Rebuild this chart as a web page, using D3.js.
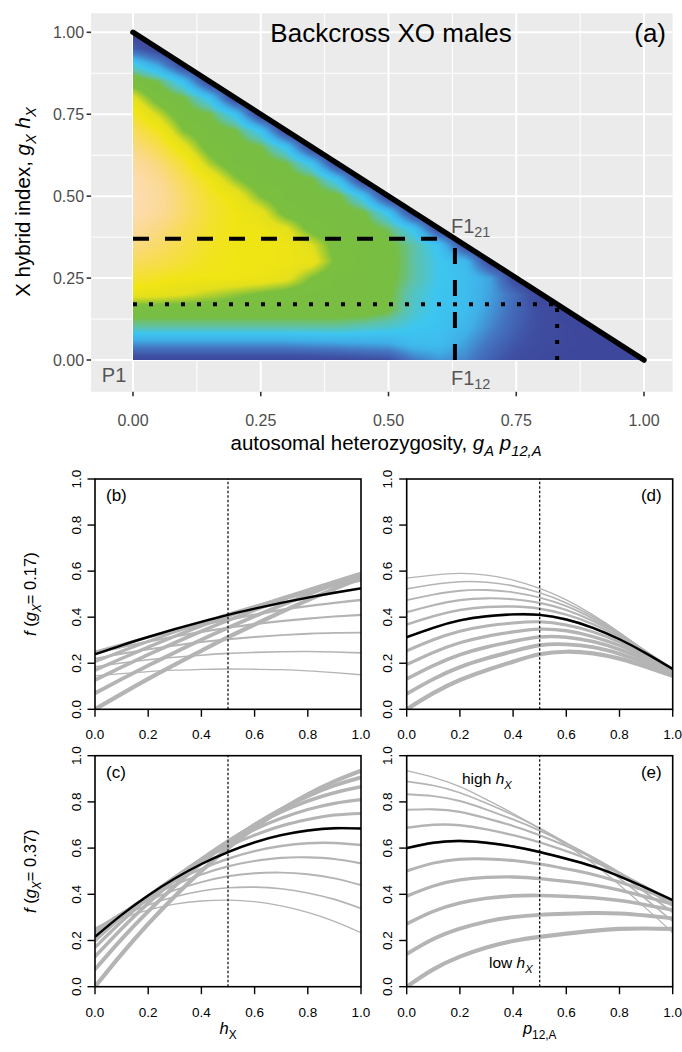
<!DOCTYPE html>
<html><head><meta charset="utf-8">
<script src="https://cdn.jsdelivr.net/npm/d3@7"></script>
<style>
body{margin:0;background:#fff}
svg{display:block}
text{font-family:"Liberation Sans",Arial,Helvetica,sans-serif}
</style>
</head><body>
<svg id="chart" width="682" height="1052"></svg>
<script>
// ---------------- DATA ----------------
// Panel (a): heat-map grid, rows at heatY, columns at heatX (only x + y <= 1)
const heatX = [0,0.05,0.1,0.15,0.2,0.25,0.3,0.35,0.4,0.45,0.5,0.55,0.6,0.65,0.7,0.75,0.8,0.85,0.9,0.95,1];
const heatY = [0,0.05,0.1,0.15,0.2,0.25,0.3,0.35,0.4,0.45,0.5,0.55,0.6,0.65,0.7,0.75,0.8,0.85,0.9,0.95,1];
const heatRows = [
  [0.04,0.04,0.04,0.04,0.04,0.04,0.04,0.05,0.06,0.08,0.10,0.22,0.28,0.25,0.15,0.08,0.05,0.04,0.04,0.04,0.03],
  [0.28,0.28,0.28,0.28,0.28,0.28,0.28,0.29,0.30,0.31,0.32,0.38,0.38,0.30,0.20,0.12,0.07,0.05,0.04,0.03],
  [0.50,0.50,0.50,0.50,0.50,0.50,0.50,0.50,0.50,0.48,0.46,0.42,0.40,0.35,0.25,0.15,0.08,0.05,0.03],
  [0.60,0.60,0.60,0.60,0.60,0.60,0.60,0.60,0.60,0.60,0.56,0.46,0.41,0.38,0.28,0.17,0.08,0.03],
  [0.77,0.76,0.74,0.71,0.68,0.65,0.62,0.60,0.60,0.60,0.57,0.47,0.41,0.38,0.30,0.18,0.04],
  [0.84,0.82,0.80,0.80,0.80,0.79,0.76,0.66,0.60,0.60,0.58,0.50,0.42,0.39,0.30,0.05],
  [0.89,0.87,0.84,0.81,0.80,0.80,0.79,0.77,0.64,0.60,0.59,0.50,0.42,0.37,0.06],
  [0.93,0.90,0.86,0.82,0.80,0.80,0.79,0.74,0.62,0.60,0.58,0.50,0.40,0.08],
  [0.97,0.93,0.88,0.83,0.80,0.79,0.75,0.63,0.60,0.60,0.54,0.40,0.07],
  [1.00,0.96,0.90,0.84,0.80,0.76,0.63,0.60,0.60,0.57,0.40,0.06],
  [1.00,0.97,0.90,0.83,0.78,0.66,0.60,0.60,0.58,0.40,0.05],
  [1.00,0.95,0.88,0.80,0.68,0.60,0.60,0.57,0.40,0.05],
  [0.97,0.92,0.84,0.70,0.60,0.60,0.56,0.40,0.05],
  [0.93,0.87,0.76,0.62,0.60,0.56,0.40,0.05],
  [0.89,0.81,0.66,0.60,0.56,0.40,0.05],
  [0.83,0.72,0.60,0.56,0.40,0.05],
  [0.75,0.62,0.56,0.40,0.05],
  [0.62,0.55,0.38,0.05],
  [0.45,0.30,0.05],
  [0.15,0.04],
  [0.03]
];
const colourStops  = [0, 0.1, 0.22, 0.33, 0.42, 0.5, 0.56, 0.66, 0.74, 0.8, 0.88, 0.94, 1.0];
const colourValues = ["#3c4399","#3f4fa2","#4477c2","#3fb0e8","#3dc6f0","#5fc2a8","#77be44","#7bbf3e","#e2df1c","#f0e514","#f7dc55","#fad98c","#fddcb0"];
const ticksA = [0,0.25,0.5,0.75,1];
const tickLabelsA = ["0.00","0.25","0.50","0.75","1.00"];
const minorA = [0.125,0.375,0.625,0.875];
const dashedPoint = [0.63,0.37];   // F1_21
const dottedPoint = [0.83,0.17];

// Panels (b)-(e): f on an 11 x 11 grid; rows = p12,A, columns = hX
const hX  = [0,0.1,0.2,0.3,0.4,0.5,0.6,0.7,0.8,0.9,1];
const p12 = [0,0.1,0.2,0.3,0.4,0.5,0.6,0.7,0.8,0.9,1];
const f017 = [
  [0.000,0.067,0.132,0.194,0.254,0.313,0.368,0.422,0.474,0.523,0.570],
  [0.070,0.131,0.190,0.247,0.302,0.354,0.404,0.452,0.498,0.542,0.583],
  [0.127,0.183,0.237,0.289,0.339,0.386,0.431,0.474,0.515,0.554,0.590],
  [0.170,0.221,0.270,0.317,0.362,0.404,0.444,0.482,0.518,0.552,0.583],
  [0.207,0.252,0.295,0.336,0.375,0.412,0.446,0.478,0.508,0.536,0.561],
  [0.239,0.278,0.314,0.348,0.380,0.410,0.437,0.462,0.485,0.506,0.525],
  [0.250,0.282,0.313,0.341,0.366,0.390,0.411,0.431,0.448,0.462,0.475],
  [0.243,0.270,0.294,0.316,0.336,0.354,0.370,0.383,0.394,0.403,0.410],
  [0.220,0.241,0.260,0.277,0.292,0.304,0.314,0.322,0.328,0.332,0.333],
  [0.185,0.201,0.215,0.226,0.235,0.243,0.247,0.250,0.251,0.249,0.245],
  [0.145,0.155,0.164,0.170,0.173,0.175,0.174,0.172,0.167,0.159,0.150]
];
const f037 = [
  [0.000,0.141,0.272,0.392,0.501,0.600,0.688,0.766,0.833,0.889,0.935],
  [0.075,0.206,0.326,0.436,0.535,0.623,0.701,0.768,0.825,0.871,0.906],
  [0.130,0.251,0.362,0.462,0.552,0.631,0.699,0.757,0.804,0.840,0.866],
  [0.170,0.282,0.383,0.473,0.553,0.623,0.681,0.729,0.767,0.794,0.810],
  [0.198,0.301,0.393,0.475,0.546,0.607,0.656,0.696,0.724,0.743,0.750],
  [0.216,0.311,0.395,0.468,0.531,0.583,0.625,0.656,0.676,0.686,0.685],
  [0.230,0.316,0.391,0.456,0.510,0.554,0.587,0.609,0.621,0.622,0.613],
  [0.242,0.319,0.385,0.441,0.486,0.521,0.544,0.558,0.560,0.553,0.534],
  [0.250,0.317,0.373,0.418,0.453,0.478,0.491,0.494,0.487,0.469,0.440],
  [0.252,0.308,0.354,0.389,0.414,0.428,0.431,0.424,0.406,0.378,0.339],
  [0.250,0.296,0.332,0.357,0.371,0.375,0.368,0.350,0.322,0.283,0.234]
];
const highlightIndex = 5;  // p12,A = 0.5 / hX = 0.5 (black curve)
const ticksB = [0,0.2,0.4,0.6,0.8,1];
const tickLabelsB = ["0.0","0.2","0.4","0.6","0.8","1.0"];

// ---------------- DRAW ----------------
const svg = d3.select("#chart");
const defs = svg.append("defs");

// ===== Panel (a) =====
const xA = d3.scaleLinear().domain([0,1]).range([133,644]);
const yA = d3.scaleLinear().domain([0,1]).range([360,32.3]);
const limX = [-0.082,1.056], limY = [-0.097,1.058];
const gA = svg.append("g");
gA.append("rect").attr("x",xA(limX[0])).attr("y",yA(limY[1]))
  .attr("width",xA(limX[1])-xA(limX[0])).attr("height",yA(limY[0])-yA(limY[1]))
  .attr("fill","#ebebeb");
minorA.forEach(v=>{
  gA.append("line").attr("x1",xA(v)).attr("x2",xA(v)).attr("y1",yA(limY[0])).attr("y2",yA(limY[1]))
    .attr("stroke","#fff").attr("stroke-width",1);
  gA.append("line").attr("y1",yA(v)).attr("y2",yA(v)).attr("x1",xA(limX[0])).attr("x2",xA(limX[1]))
    .attr("stroke","#fff").attr("stroke-width",1);
});
ticksA.forEach(v=>{
  gA.append("line").attr("x1",xA(v)).attr("x2",xA(v)).attr("y1",yA(limY[0])).attr("y2",yA(limY[1]))
    .attr("stroke","#fff").attr("stroke-width",2);
  gA.append("line").attr("y1",yA(v)).attr("y2",yA(v)).attr("x1",xA(limX[0])).attr("x2",xA(limX[1]))
    .attr("stroke","#fff").attr("stroke-width",2);
});

// heat map: raster rendered from the grid (bilinear shading between grid values)
const colour = d3.scaleLinear().domain(colourStops).range(colourValues).interpolate(d3.interpolateRgb);
defs.append("clipPath").attr("id","tri").append("polygon")
  .attr("points",[[xA(0),yA(0)],[xA(0),yA(1)],[xA(1),yA(0)]].map(p=>p.join(",")).join(" "));
(function(){
  const px0 = Math.floor(xA(0))-1, px1 = Math.ceil(xA(1))+1;
  const py0 = Math.floor(yA(1))-1, py1 = Math.ceil(yA(0))+1;
  const W = px1-px0, H = py1-py0;
  const cv = document.createElement("canvas"); cv.width=W; cv.height=H;
  const ctx = cv.getContext("2d"); const img = ctx.createImageData(W,H);
  const ix = d3.scaleLinear().domain([heatX[0],heatX[heatX.length-1]]).range([0,heatX.length-1]);
  const iy = d3.scaleLinear().domain([heatY[0],heatY[heatY.length-1]]).range([0,heatY.length-1]);
  const val = (i,j)=>{ const r = heatRows[Math.max(0,Math.min(heatRows.length-1,i))]; return r[Math.max(0,Math.min(r.length-1,j))]; };
  for(let py=0; py<H; py++){
    const yv = yA.invert(py0+py+0.5);
    const fy = Math.max(0,Math.min(heatY.length-1, iy(yv)));
    const i0 = Math.min(heatY.length-2, Math.floor(fy)), ty = fy-i0;
    for(let px=0; px<W; px++){
      const xv = xA.invert(px0+px+0.5);
      const fx = Math.max(0,Math.min(heatX.length-1, ix(xv)));
      const j0 = Math.min(heatX.length-2, Math.floor(fx)), tx = fx-j0;
      const v = (val(i0,j0)*(1-tx)+val(i0,j0+1)*tx)*(1-ty) + (val(i0+1,j0)*(1-tx)+val(i0+1,j0+1)*tx)*ty;
      const c = d3.rgb(colour(v));
      const k = (py*W+px)*4;
      img.data[k]=c.r; img.data[k+1]=c.g; img.data[k+2]=c.b; img.data[k+3]=255;
    }
  }
  ctx.putImageData(img,0,0);
  gA.append("image").attr("x",px0).attr("y",py0).attr("width",W).attr("height",H)
    .attr("href",cv.toDataURL()).attr("clip-path","url(#tri)");
})();

// reference lines
gA.append("line").attr("x1",xA(0)).attr("y1",yA(dashedPoint[1])).attr("x2",xA(dashedPoint[0])).attr("y2",yA(dashedPoint[1]))
  .attr("stroke","#000").attr("stroke-width",4).attr("stroke-dasharray","16,16");
gA.append("line").attr("x1",xA(dashedPoint[0])).attr("y1",yA(0)).attr("x2",xA(dashedPoint[0])).attr("y2",yA(dashedPoint[1]))
  .attr("stroke","#000").attr("stroke-width",4).attr("stroke-dasharray","16,16");
gA.append("line").attr("x1",xA(0)).attr("y1",yA(dottedPoint[1])).attr("x2",xA(dottedPoint[0])).attr("y2",yA(dottedPoint[1]))
  .attr("stroke","#000").attr("stroke-width",4).attr("stroke-dasharray","4,12");
gA.append("line").attr("x1",xA(dottedPoint[0])).attr("y1",yA(0)).attr("x2",xA(dottedPoint[0])).attr("y2",yA(dottedPoint[1]))
  .attr("stroke","#000").attr("stroke-width",4).attr("stroke-dasharray","4,12");
gA.append("line").attr("x1",xA(0)).attr("y1",yA(1)).attr("x2",xA(1)).attr("y2",yA(0))
  .attr("stroke","#000").attr("stroke-width",5.5).attr("stroke-linecap","round");

// axes
ticksA.forEach((v,i)=>{
  gA.append("line").attr("x1",xA(v)).attr("x2",xA(v)).attr("y1",yA(limY[0])).attr("y2",yA(limY[0])+4.5)
    .attr("stroke","#333").attr("stroke-width",1.6);
  gA.append("text").attr("x",xA(v)).attr("y",425.5).attr("text-anchor","middle")
    .attr("font-size",16).attr("fill","#4d4d4d").text(tickLabelsA[i]);
  gA.append("line").attr("y1",yA(v)).attr("y2",yA(v)).attr("x1",xA(limX[0])-4.5).attr("x2",xA(limX[0]))
    .attr("stroke","#333").attr("stroke-width",1.6);
  gA.append("text").attr("x",xA(limX[0])-7).attr("y",yA(v)).attr("text-anchor","end")
    .attr("dominant-baseline","central").attr("font-size",16).attr("fill","#4d4d4d").text(tickLabelsA[i]);
});

function rich(g, x, y, parts, size, attrs){
  const t = g.append("text").attr("x",x).attr("y",y).attr("font-size",size);
  Object.entries(attrs||{}).forEach(([k,v])=>t.attr(k,v));
  let shift = 0;
  parts.forEach(p=>{
    const ts = t.append("tspan").text(p.t);
    if(p.it) ts.attr("font-style","italic");
    const target = p.sub ? size*0.3 : 0;
    if(target!==shift){ ts.attr("dy",target-shift); shift=target; }
    if(p.sub) ts.attr("font-size",size*0.72);
  });
  return t;
}

// axis titles (a)
rich(gA, 386, 450, [{t:"autosomal heterozygosity, "},{t:"g",it:1},{t:"A",it:1,sub:1},{t:" "},{t:"p",it:1},{t:"12,A",it:1,sub:1}], 20.5, {"text-anchor":"middle"});
rich(gA, 0, 0, [{t:"X hybrid index, "},{t:"g",it:1},{t:"X",it:1,sub:1},{t:" "},{t:"h",it:1},{t:"X",it:1,sub:1}], 20.5,
  {"text-anchor":"middle","transform":"translate(30,202) rotate(-90)"});
// annotations (a)
gA.append("text").attr("x",391).attr("y",42).attr("text-anchor","middle").attr("font-size",26).attr("fill","#000").text("Backcross XO males");
gA.append("text").attr("x",xA(1.012)).attr("y",42).attr("text-anchor","middle").attr("font-size",26).attr("fill","#000").text("(a)");
gA.append("text").attr("x",xA(-0.037)).attr("y",yA(-0.045)).attr("text-anchor","middle").attr("dominant-baseline","central")
  .attr("font-size",20).attr("fill","#555").text("P1");
rich(gA, xA(dashedPoint[0])-4, yA(-0.055), [{t:"F1"},{t:"12",sub:1}], 20, {"fill":"#555","dominant-baseline":"central"});
rich(gA, xA(dashedPoint[0])-4, yA(dashedPoint[1]+0.04), [{t:"F1"},{t:"21",sub:1}], 20, {"fill":"#555","dominant-baseline":"central"});

// ===== Panels (b)-(e) =====
const lw = d3.scaleLinear().domain([0,10]).range([4.2,1.3]);
function linePanel(box, xs, curves, label, labelRight){
  const g = svg.append("g");
  const x = d3.scaleLinear().domain([0,1]).range([box.x0, box.x1]);
  const y = d3.scaleLinear().domain([0,1]).range([box.y1, box.y0]);
  const id = "clip"+label.replace(/\W/g,"");
  defs.append("clipPath").attr("id",id).append("rect").attr("x",box.x0).attr("y",box.y0)
    .attr("width",box.x1-box.x0).attr("height",box.y1-box.y0);
  const line = d3.line().x((d,i)=>x(xs[i])).y(d=>y(d)).curve(d3.curveNatural);
  const cg = g.append("g").attr("clip-path",`url(#${id})`);
  curves.forEach((c,i)=>{
    cg.append("path").attr("d",line(c)).attr("fill","none").attr("stroke","#b4b4b4").attr("stroke-width",lw(i));
  });
  cg.append("path").attr("d",line(curves[highlightIndex])).attr("fill","none").attr("stroke","#000").attr("stroke-width",2.4);
  g.append("line").attr("x1",x(0.5)).attr("x2",x(0.5)).attr("y1",y(0)).attr("y2",y(1))
    .attr("stroke","#000").attr("stroke-width",1.2).attr("stroke-dasharray","2.5,2");
  g.append("rect").attr("x",box.x0).attr("y",box.y0).attr("width",box.x1-box.x0).attr("height",box.y1-box.y0)
    .attr("fill","none").attr("stroke","#000").attr("stroke-width",1.6);
  ticksB.forEach((v,i)=>{
    g.append("line").attr("x1",x(v)).attr("x2",x(v)).attr("y1",box.y1).attr("y2",box.y1+7.5).attr("stroke","#000").attr("stroke-width",1.4);
    g.append("text").attr("x",x(v)).attr("y",box.y1+25.5).attr("text-anchor","middle").attr("dominant-baseline","central")
      .attr("font-size",13.5).text(tickLabelsB[i]);
    g.append("line").attr("y1",y(v)).attr("y2",y(v)).attr("x1",box.x0-7.5).attr("x2",box.x0).attr("stroke","#000").attr("stroke-width",1.4);
    g.append("text").attr("transform",`translate(${box.x0-19},${y(v)}) rotate(-90)`).attr("text-anchor","middle")
      .attr("dominant-baseline","central").attr("font-size",13.5).text(tickLabelsB[i]);
  });
  if(labelRight) g.append("text").attr("x",box.x1-11).attr("y",box.y0+22).attr("text-anchor","end").attr("font-size",17).text(label);
  else g.append("text").attr("x",box.x0+11).attr("y",box.y0+22).attr("font-size",17).text(label);
  return {g,x,y};
}
const boxB = {x0:95,x1:361,y0:479,y1:709.3};
const boxD = {x0:406.7,x1:672.7,y0:479,y1:709.3};
const boxC = {x0:95,x1:361,y0:755.7,y1:986.7};
const boxE = {x0:406.7,x1:672.7,y0:755.7,y1:986.7};
const cols = (m)=>m[0].map((_,j)=>m.map(r=>r[j]));
linePanel(boxB, hX, f017, "(b)", false);
linePanel(boxD, p12, cols(f017), "(d)", true);
linePanel(boxC, hX, f037, "(c)", false);
const pe = linePanel(boxE, p12, cols(f037), "(e)", true);
rich(pe.g, 462, 784, [{t:"high "},{t:"h",it:1},{t:"X",it:1,sub:1}], 15.5, {});
rich(pe.g, 489, 968, [{t:"low "},{t:"h",it:1},{t:"X",it:1,sub:1}], 15.5, {});

// y labels for (b),(c)
rich(svg, 0, 0, [{t:"f",it:1},{t:"  ("},{t:"g",it:1},{t:"X",it:1,sub:1},{t:"= 0.17)"}], 16.5,
  {"text-anchor":"middle","transform":`translate(36,${(boxB.y0+boxB.y1)/2}) rotate(-90)`});
rich(svg, 0, 0, [{t:"f",it:1},{t:"  ("},{t:"g",it:1},{t:"X",it:1,sub:1},{t:"= 0.37)"}], 16.5,
  {"text-anchor":"middle","transform":`translate(36,${(boxC.y0+boxC.y1)/2}) rotate(-90)`});
// x labels
rich(svg, (boxC.x0+boxC.x1)/2, 1034, [{t:"h",it:1},{t:"X",sub:1}], 16.5, {"text-anchor":"middle"});
rich(svg, (boxE.x0+boxE.x1)/2, 1034, [{t:"p",it:1},{t:"12,A",sub:1}], 16.5, {"text-anchor":"middle"});
</script>
</body></html>
